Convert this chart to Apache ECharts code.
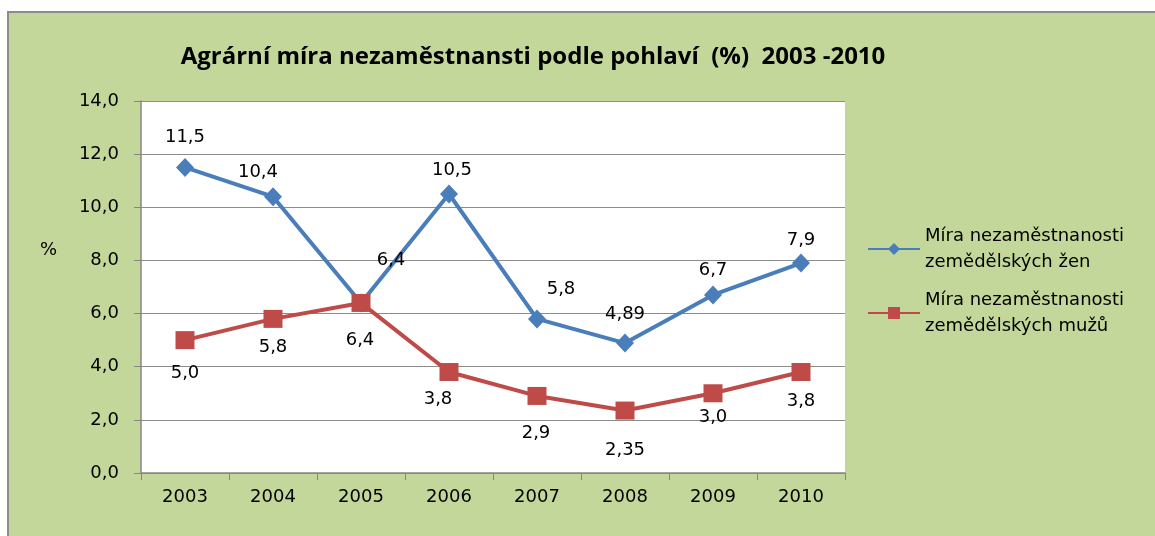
<!DOCTYPE html>
<html>
<head>
<meta charset="utf-8">
<script src="https://cdn.jsdelivr.net/npm/echarts@6/dist/echarts.min.js"></script>
<style>
  body{margin:0;background:#fff;}
  .frame{position:absolute;left:7px;top:11px;right:0;bottom:0;background:#c4d79b;
    border-top:2px solid #8c8c8c;border-left:2px solid #8c8c8c;}
  #chart{position:absolute;left:0;top:0;width:1155px;height:536px;}
</style>
</head>
<body>
<div class="frame"></div>
<div id="chart"></div>
<script>
// roky a hodnoty
let years=["2003","2004","2005","2006","2007","2008","2009","2010"];
let zeny=[11.5,10.4,6.4,10.5,5.8,4.89,6.7,7.9];
let muzi=[5.0,5.8,6.4,3.8,2.9,2.35,3.0,3.8];
let zenyText=["11,5","10,4","6,4","10,5","5,8","4,89","6,7","7,9"];
let muziText=["5,0","5,8","6,4","3,8","2,9","2,35","3,0","3,8"];

// posun popisku od bodu
let offZeny=[[0,-30],[-15,-24],[30,-43],[3,-24],[24,-30],[0,-29],[0,-25],[0,-23]];
let offMuzi=[[0,33],[0,28],[-1,37],[-11,27],[-1,37],[0,40],[0,24],[0,29]];

let font="DejaVu Sans";

function build(vals,texts,offs){
    return vals.map(function(v,i){
        return {value:v,label:{formatter:texts[i],offset:offs[i]}};
    });
}

let myChart=echarts.init(document.getElementById("chart"));
let option={
    backgroundColor:"transparent",
    animation:false,
    title:{
        text:"Agrární míra nezaměstnansti podle pohlaví  (%)  2003 -2010",
        left:528,
        textAlign:"center",
        top:40,
        textStyle:{fontFamily:"Open Sans",fontWeight:"bold",fontSize:24,color:"#000"}
    },
    legend:{
        orient:"vertical",
        left:862,
        top:218,
        itemWidth:52,
        itemHeight:15,
        itemGap:12,
        textStyle:{fontFamily:font,fontSize:18,color:"#000",lineHeight:26}
    },
    grid:{left:141,right:310,top:101,bottom:63,show:true,backgroundColor:"#fff",borderWidth:0},
    xAxis:{
        type:"category",
        data:years,
        boundaryGap:true,
        axisLine:{lineStyle:{color:"#868686",width:1.5}},
        axisTick:{show:true,length:7,lineStyle:{color:"#868686"}},
        axisLabel:{fontFamily:font,fontSize:18,color:"#000",margin:15}
    },
    yAxis:{
        type:"value",
        min:0,max:14,interval:2,
        name:"%",
        nameLocation:"middle",
        nameRotate:0,
        nameGap:84,
        nameTextStyle:{fontFamily:font,fontSize:18,color:"#000",verticalAlign:"bottom",lineHeight:74},
        axisLine:{show:true,lineStyle:{color:"#868686",width:1.5}},
        axisTick:{show:true,length:7,lineStyle:{color:"#868686"}},
        splitLine:{lineStyle:{color:"#8c8c8c",width:1}},
        axisLabel:{fontFamily:font,fontSize:18,color:"#000",margin:22,
            formatter:function(v){return v.toFixed(1).replace(".",",");}}
    },
    series:[{
        name:"Míra nezaměstnanosti\nzemědělských žen",
        type:"line",
        data:build(zeny,zenyText,offZeny),
        symbol:"diamond",
        symbolSize:[18,19],
        lineStyle:{color:"#4a7ebb",width:4},
        itemStyle:{color:"#4a7ebb"},
        label:{show:true,position:"inside",fontFamily:font,fontSize:18,color:"#000"}
    },{
        name:"Míra nezaměstnanosti\nzemědělských mužů",
        type:"line",
        data:build(muzi,muziText,offMuzi),
        symbol:"rect",
        symbolSize:[19,18],
        lineStyle:{color:"#be4b48",width:4},
        itemStyle:{color:"#be4b48"},
        label:{show:true,position:"inside",fontFamily:font,fontSize:18,color:"#000"}
    }]
};
myChart.setOption(option);
</script>
</body>
</html>
